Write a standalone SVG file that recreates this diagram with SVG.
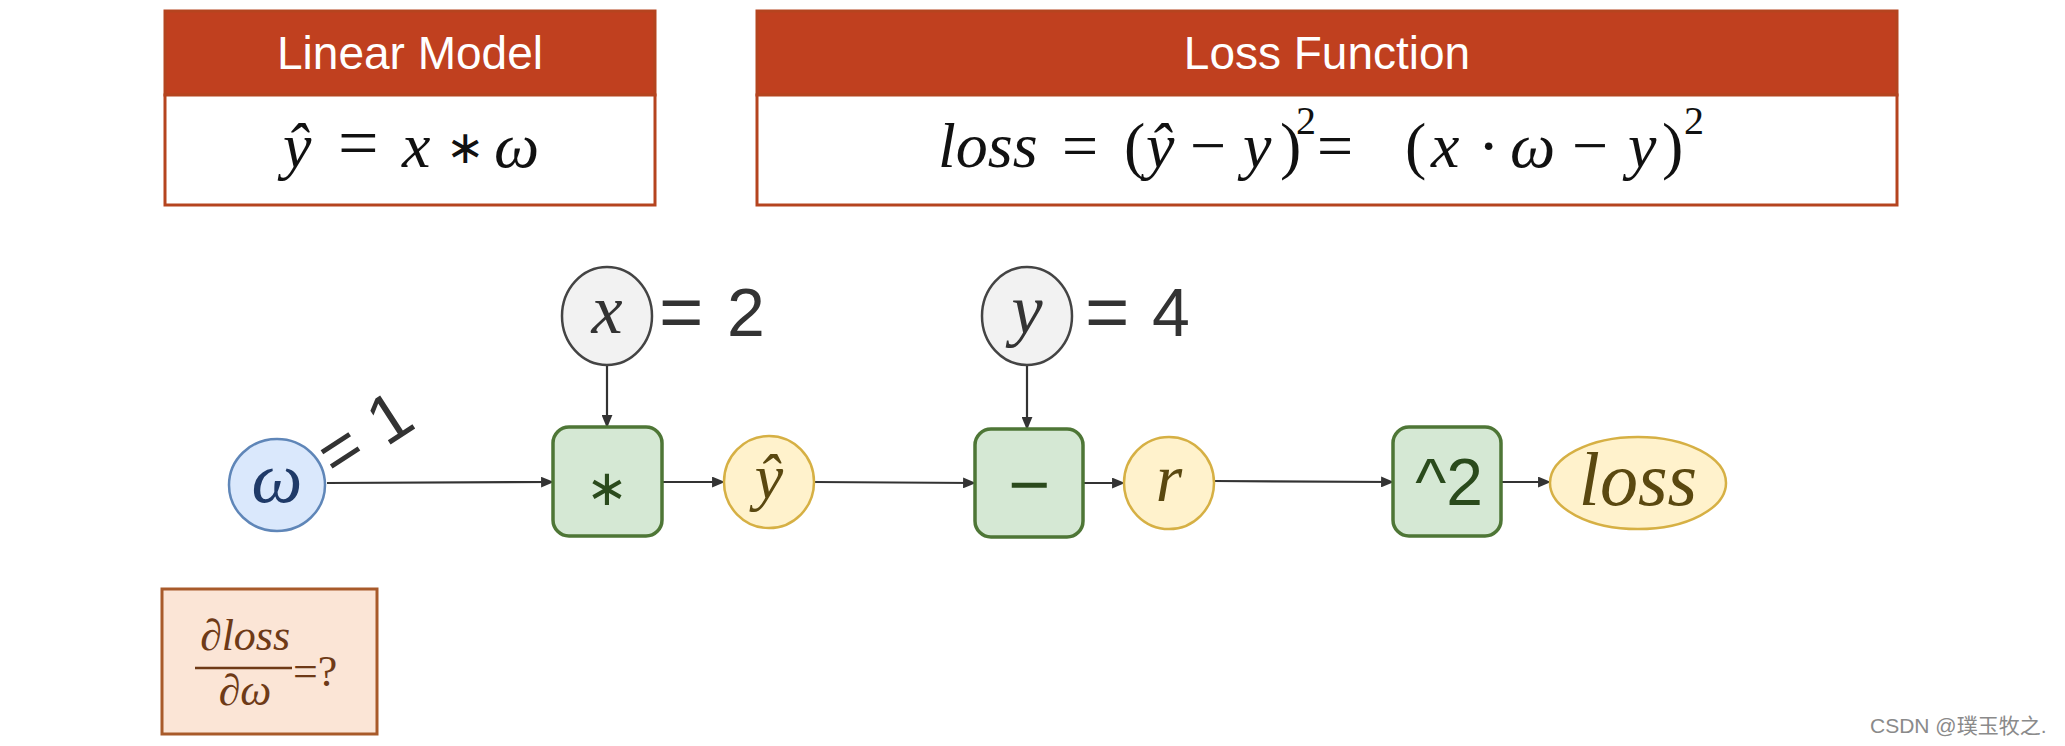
<svg xmlns="http://www.w3.org/2000/svg" width="2065" height="746" viewBox="0 0 2065 746">
<defs>
<marker id="arr" viewBox="0 0 12 10" refX="11" refY="5" markerWidth="13" markerHeight="11" markerUnits="userSpaceOnUse" orient="auto">
<path d="M0,0 L12,5 L0,10 Z" fill="#333"/>
</marker>
<style>
.hdr{fill:#C0401F;stroke:#B5441F;stroke-width:3}
.body{fill:#fff;stroke:#B5441F;stroke-width:3}
.htxt{font-family:"Liberation Sans",Arial,sans-serif;font-size:46px;fill:#fff;text-anchor:middle}
.math{font-family:"Liberation Serif","Times New Roman",serif;font-size:64px;fill:#111}
.it{font-style:italic}
.op{fill:#D5E8D4;stroke:#4E7636;stroke-width:3.5}
.opt{font-family:"Liberation Sans",Arial,sans-serif;fill:#2A4A1C;text-anchor:middle}
.inp{fill:#F2F2F2;stroke:#444;stroke-width:2.5}
.var{fill:#FFF2CC;stroke:#D6B044;stroke-width:2.5}
.wn{fill:#DAE8FC;stroke:#5F86B8;stroke-width:2.5}
.lt{font-family:"Liberation Serif","Times New Roman",serif;font-style:italic;text-anchor:middle}
.eq{font-family:"Liberation Sans",Arial,sans-serif;font-size:68px;fill:#333}
.edge{stroke:#333;stroke-width:2.2;fill:none;marker-end:url(#arr)}
.der{fill:#FBE5D6;stroke:#A85A2A;stroke-width:3}
.dt{font-family:"Liberation Serif","Times New Roman",serif;font-size:44px;fill:#6E3A17}
</style>
</defs>
<rect width="2065" height="746" fill="#fff"/>

<g id="linear-model">
<rect class="hdr" x="165" y="11" width="490" height="84"/>
<rect class="body" x="165" y="95" width="490" height="110"/>
<text class="htxt" x="410" y="69">Linear Model</text>
<text class="math" y="167"><tspan class="it" x="283">ŷ</tspan><tspan x="338" font-size="72">=</tspan><tspan class="it" x="402" font-size="64">x</tspan><tspan x="446" font-size="46" dy="-4">∗</tspan><tspan class="it" x="494" font-size="64" dy="4">ω</tspan></text>
</g>

<g id="loss-function">
<rect class="hdr" x="757" y="11" width="1140" height="84"/>
<rect class="body" x="757" y="95" width="1140" height="110"/>
<text class="htxt" x="1327" y="69">Loss Function</text>
<text class="math" y="167"><tspan class="it" x="938">loss</tspan><tspan x="1062">=</tspan><tspan x="1124">(</tspan><tspan class="it" x="1146">ŷ</tspan><tspan x="1190">−</tspan><tspan class="it" x="1243">y</tspan><tspan x="1280">)</tspan><tspan x="1296" y="134" font-size="40">2</tspan><tspan x="1317" y="167">=</tspan><tspan x="1405">(</tspan><tspan class="it" x="1431">x</tspan><tspan x="1478">·</tspan><tspan class="it" x="1510">ω</tspan><tspan x="1572">−</tspan><tspan class="it" x="1628">y</tspan><tspan x="1662">)</tspan><tspan x="1684" y="134" font-size="40">2</tspan></text>
</g>

<g id="connectors">
<line class="edge" x1="327" y1="483" x2="553" y2="482"/>
<line class="edge" x1="607" y1="365" x2="607" y2="427"/>
<line class="edge" x1="662" y1="482" x2="724" y2="482"/>
<line class="edge" x1="814" y1="482" x2="975" y2="483"/>
<line class="edge" x1="1027" y1="365" x2="1027" y2="429"/>
<line class="edge" x1="1083" y1="483" x2="1124" y2="483"/>
<line class="edge" x1="1214" y1="481" x2="1393" y2="482"/>
<line class="edge" x1="1501" y1="482" x2="1550" y2="482"/>
</g>

<g id="node-w">
<ellipse class="wn" cx="277" cy="485" rx="48" ry="46"/>
<text class="lt" x="277" y="502" font-size="72" fill="#1F3A68">ω</text>
<text class="eq" font-size="74" transform="translate(336,480) rotate(-33)"><tspan x="0" y="0">=</tspan><tspan x="60" y="0">1</tspan></text>
</g>

<g id="node-x">
<ellipse class="inp" cx="607" cy="316" rx="45" ry="49"/>
<text class="lt" x="607" y="333" font-size="70" fill="#333">x</text>
<text class="eq" y="336"><tspan x="659" font-size="76" dy="2">=</tspan><tspan x="727" dy="-2">2</tspan></text>
</g>

<g id="node-mul">
<rect class="op" x="553" y="427" width="109" height="109" rx="16"/>
<text class="opt" x="607" y="505" font-size="50">∗</text>
</g>

<g id="node-yhat">
<ellipse class="var" cx="769" cy="482" rx="45" ry="46"/>
<text class="lt" x="769" y="498" font-size="64" fill="#5A4810">ŷ</text>
</g>

<g id="node-y">
<ellipse class="inp" cx="1027" cy="316" rx="45" ry="49"/>
<text class="lt" x="1027" y="333" font-size="70" fill="#333">y</text>
<text class="eq" y="336"><tspan x="1085" font-size="76" dy="2">=</tspan><tspan x="1152" dy="-2">4</tspan></text>
</g>

<g id="node-sub">
<rect class="op" x="975" y="429" width="108" height="108" rx="16"/>
<text class="opt" x="1029" y="509" font-size="72">−</text>
</g>

<g id="node-r">
<ellipse class="var" cx="1169" cy="483" rx="45" ry="46"/>
<text class="lt" x="1169" y="501" font-size="68" fill="#5A4810">r</text>
</g>

<g id="node-sq">
<rect class="op" x="1393" y="427" width="108" height="109" rx="16"/>
<text class="opt" x="1449" y="505" font-size="66">^2</text>
</g>

<g id="node-loss">
<ellipse class="var" cx="1638" cy="483" rx="88" ry="46"/>
<text class="lt" x="1638" y="505" font-size="76" fill="#5A4810">loss</text>
</g>

<g id="derivative">
<rect class="der" x="162" y="589" width="215" height="145"/>
<text class="dt" x="245" y="650" text-anchor="middle" font-style="italic">∂loss</text>
<line x1="195" y1="668" x2="292" y2="668" stroke="#6E3A17" stroke-width="2.5"/>
<text class="dt" x="245" y="705" text-anchor="middle" font-style="italic">∂ω</text>
<text class="dt" x="293" y="686">=?</text>
</g>

<text x="1870" y="733" font-family="'Liberation Sans','Noto Sans CJK SC',sans-serif" font-size="21" fill="#8a8a8a">CSDN @璞玉牧之.</text>
</svg>
